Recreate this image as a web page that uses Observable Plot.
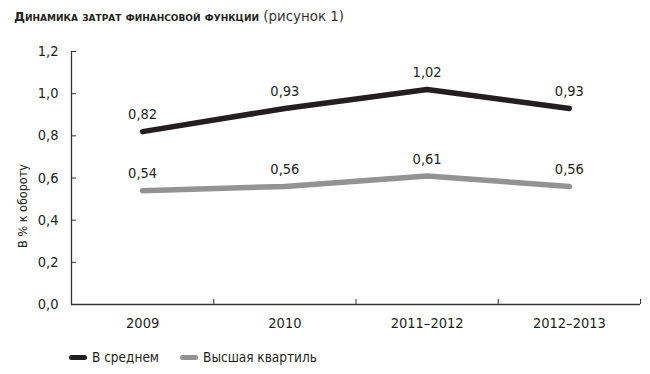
<!DOCTYPE html>
<html><head><meta charset="utf-8">
<script src="https://cdn.jsdelivr.net/npm/d3@7"></script>
<script src="https://cdn.jsdelivr.net/npm/@observablehq/plot@0.6"></script>
<style>
body{margin:0;background:#fff;color:#231f20;font-family:"DejaVu Sans Condensed","DejaVu Sans",sans-serif;font-stretch:condensed;}
#title{height:28px;box-sizing:border-box;padding:8px 0 0 14px;white-space:nowrap;line-height:16px;font-family:"DejaVu Sans",sans-serif;font-stretch:normal;}
#title .b{font-weight:900;font-variant:small-caps;font-size:12.4px;}
#title .n{color:#333;font-size:13.4px;}
#legend{display:flex;align-items:center;padding:14px 0 0 69px;height:18px;font-size:13.5px;}
.item{display:flex;align-items:center;margin-right:21px;}
.sw{width:18px;height:5px;border-radius:3px;margin-right:5px;}
</style></head><body>
<div id="title"><span class="b">Динамика затрат финансовой функции</span><span class="n"> (рисунок 1)</span></div>
<div id="chart"></div>
<div id="legend"></div>
<script>
const periods = ["2009", "2010", "2011–2012", "2012–2013"];
const avgValues = [0.82, 0.93, 1.02, 0.93];
const topQuartileValues = [0.54, 0.56, 0.61, 0.56];
const seriesNames = ["В среднем", "Высшая квартиль"];
const seriesColors = ["#231f20", "#939393"];
const yTicks = [0, 0.2, 0.4, 0.6, 0.8, 1.0, 1.2];
const yLabel = "В % к обороту";

const rows = [];
periods.forEach((p, i) => {
  rows.push({i, period: p, series: seriesNames[0], value: avgValues[i]});
  rows.push({i, period: p, series: seriesNames[1], value: topQuartileValues[i]});
});
const fmt = v => d3.format(".1f")(v).replace(".", ",");
const fmt2 = v => d3.format(".2f")(v).replace(".", ",");
const font = '"DejaVu Sans Condensed","DejaVu Sans",sans-serif';

const chart = Plot.plot({
  width: 650,
  height: 306,
  marginTop: 23,
  marginBottom: 30,
  marginLeft: 71,
  marginRight: 10,
  style: {fontFamily: font, fontSize: "14px", color: "#231f20", background: "#fff"},
  x: {type: "linear", domain: [-0.5, periods.length - 0.5], axis: null},
  y: {domain: [0, 1.2], axis: null},
  color: {domain: seriesNames, range: seriesColors},
  marks: [
    Plot.ruleY([0], {stroke: "#333", strokeWidth: 1.3}),
    Plot.ruleX([-0.5], {stroke: "#333", strokeWidth: 1.3}),
    Plot.axisY({ticks: yTicks, tickSize: 0, tickPadding: 13, tickFormat: fmt, label: null, fontSize: 14.5}),
    Plot.axisY({ticks: yTicks, tickSize: -5, tickFormat: () => "", label: null, stroke: "#333"}),
    Plot.axisX({ticks: periods.map((_, i) => i), tickSize: 0, tickPadding: 13, tickFormat: i => periods[i], label: null, fontSize: 14.5}),
    Plot.axisX({ticks: periods.map((_, i) => i + 0.5), tickSize: -5, tickFormat: () => "", label: null, stroke: "#333"}),
    Plot.text([yLabel], {frameAnchor: "left", textAnchor: "middle", text: d => d, rotate: -90, dx: -49, dy: 28, fontSize: 12.5}),
    Plot.line(rows, {x: "i", y: "value", z: "series", stroke: "series", strokeWidth: 5.5, strokeLinecap: "round", strokeLinejoin: "round"}),
    Plot.text(rows, {x: "i", y: "value", text: d => fmt2(d.value), dy: -17, fontSize: 14.5, fill: "#231f20"})
  ]
});
document.getElementById("chart").appendChild(chart);

const legend = document.getElementById("legend");
seriesNames.forEach((name, k) => {
  const it = document.createElement("div");
  it.className = "item";
  const sw = document.createElement("span");
  sw.className = "sw";
  sw.style.background = seriesColors[k];
  const t = document.createElement("span");
  t.textContent = name;
  it.appendChild(sw); it.appendChild(t);
  legend.appendChild(it);
});
</script>
</body></html>
